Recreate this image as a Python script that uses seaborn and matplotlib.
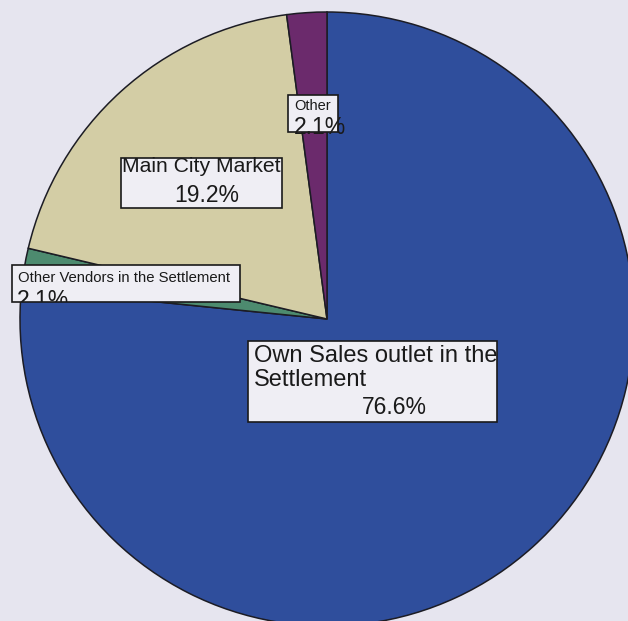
import matplotlib
matplotlib.use("Agg")
import matplotlib.pyplot as plt
from matplotlib.patches import Rectangle
import seaborn as sns

# Where produce is sold (share of respondents, %)
categories = ["Own Sales outlet in the Settlement", "Other Vendors in the Settlement",
              "Main City Market", "Other"]
shares = [76.6, 2.1, 19.2, 2.1]
colors = ["#2f4e9c", "#4d8b6f", "#d3cda5", "#6b2a6c"]

sns.set_style("white")
plt.rcParams["font.family"] = ["Liberation Sans", "DejaVu Sans"]

W, H = 628, 621
BG = "#e6e5ef"
fig = plt.figure(figsize=(W / 100, H / 100), dpi=100, facecolor=BG)
ax = fig.add_axes([0, 0, 1, 1])
ax.set_facecolor(BG)

ax.pie(shares, colors=colors, startangle=90, counterclock=False,
       radius=1.0, wedgeprops=dict(edgecolor="#1c1c24", linewidth=1.1))

# pie centre at (327, 319) px from the top-left corner, radius 307 px
R, cx, cy = 307.0, 327.0, 319.0
ax.set_xlim(-cx / R, (W - cx) / R)
ax.set_ylim(-(H - cy) / R, cy / R)
ax.set_aspect("equal")
ax.axis("off")


def fx(x):
    return x / W


def fy(y):
    return 1 - y / H


BOX_FC = "#efeef4"


def box(x0, y0, x1, y1):
    r = Rectangle((fx(x0), fy(y1)), fx(x1) - fx(x0), fy(y0) - fy(y1),
                  transform=fig.transFigure, facecolor=BOX_FC,
                  edgecolor="#1a1a1a", linewidth=1.2, zorder=5)
    fig.add_artist(r)
    return r


TXT = "#1a1a1a"

# Other
box(288, 95, 338, 132)
fig.text(fx(294), fy(110), "Other", fontsize=10.5, color=TXT, va="baseline", zorder=6)
fig.text(fx(294), fy(134), f"{shares[3]:.1f}%", fontsize=16.5, color=TXT,
         va="baseline", zorder=6)

# Main City Market
box(121, 158, 282, 208)
fig.text(fx(122), fy(172), categories[2], fontsize=15.2, color=TXT,
         va="baseline", zorder=6)
fig.text(fx(207), fy(202), f"{shares[2]:.1f}%", fontsize=16.5, color=TXT,
         va="baseline", ha="center", zorder=6)

# Other Vendors in the Settlement
rv = box(12, 265, 240, 302)
fig.text(fx(18), fy(282), categories[1], fontsize=10.7, color=TXT,
         va="baseline", zorder=6)
t = fig.text(fx(17), fy(307), f"{shares[1]:.1f}%", fontsize=16.5, color=TXT,
             va="baseline", zorder=6)
t.set_clip_path(rv)

# Own Sales outlet in the Settlement
box(248, 341, 497, 422)
fig.text(fx(254), fy(362), "Own Sales outlet in the", fontsize=17.0, color=TXT,
         va="baseline", zorder=6)
fig.text(fx(254), fy(386), "Settlement", fontsize=17.0, color=TXT,
         va="baseline", zorder=6)
fig.text(fx(394), fy(414), f"{shares[0]:.1f}%", fontsize=16.5, color=TXT,
         va="baseline", ha="center", zorder=6)

fig.savefig("out.png", dpi=100, facecolor=BG)
